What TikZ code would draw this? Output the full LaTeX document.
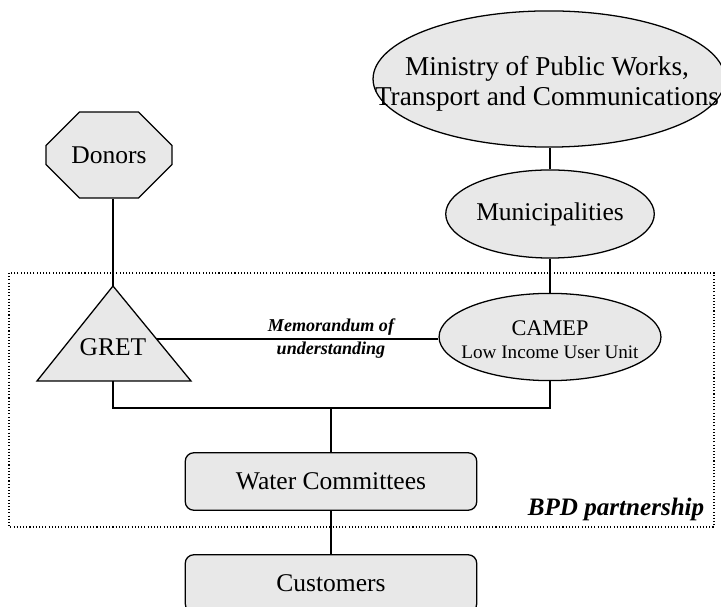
\documentclass[tikz,border=0pt]{standalone}
\usepackage{fontspec}
\setmainfont{Liberation Serif}
\usetikzlibrary{shapes.geometric,shapes.misc}
\definecolor{boxfill}{RGB}{232,232,232}
\begin{document}
\begin{tikzpicture}[x=0.47pt, y=-0.47pt, line width=0.6pt,
    unit/.style={draw, fill=boxfill, inner sep=0pt, align=center,
      font=\fontsize{12}{14.5}\selectfont},
    oval/.style={unit, ellipse},
    panel/.style={unit, rounded corners=4pt, minimum width=137pt, minimum height=27pt},
    caption/.style={align=center, inner sep=0pt},
    memo/.style={caption, font=\fontsize{8.5}{10.8}\bfseries\itshape}]
  \useasboundingbox (0, 0) rectangle (721, 607);
  % partnership frame
  \draw[densely dotted, line width=0.5pt] (9, 273) rectangle (714, 527);
  \node[anchor=base east, font=\fontsize{11.8}{14}\bfseries\itshape] (bpd) at (712, 515) {BPD partnership};
  % ovals on the right
  \node[oval, minimum width=165.4pt, minimum height=64pt] (ministry) at (549, 79) {};
  \node[caption, font=\fontsize{12.8}{14.2}\selectfont] (ministry text) at (547, 84)
    {Ministry of Public Works,\\Transport and Communications};
  \node[oval, minimum width=96pt, minimum height=41.4pt] (munic) at (550, 214) {Municipalities};
  \node[oval, minimum width=104.3pt, minimum height=41pt] (camep) at (550, 337) {};
  \node[caption, font=\fontsize{9}{10.8}\selectfont] (camep text) at (550, 340)
    {{\fontsize{10.5}{10.8}\selectfont CAMEP}\\Low Income User Unit};
  % donors and gret
  \node[unit, chamfered rectangle, chamfered rectangle xsep=11.75pt, chamfered rectangle ysep=11.75pt,
    minimum width=59.2pt, minimum height=40.4pt] (donors) at (109, 155) {Donors};
  \coordinate (gret top) at (113, 286);
  \coordinate (gret mid) at (113, 339);
  \coordinate (gret base) at (113, 381);
  \draw (gret mid) -- (gret mid -| camep.west);
  \node[memo] (memo) at (331, 339) {Memorandum of\\understanding};
  \filldraw[fill=boxfill] (gret top) -- (37, 381) -- (191, 381) -- cycle;
  \node[caption, font=\fontsize{12}{14.5}\selectfont] (gret) at (113, 347) {GRET};
  % boxes at the bottom
  \node[panel] (water) at (331, 481.5) {Water Committees};
  \node[panel] (customers) at (331, 583.5) {Customers};
  \coordinate (join) at (331, 408);
  % links
  \draw (munic.north) -- (munic.north |- ministry.south);
  \draw (munic.south) -- (camep.north);
  \draw (gret top) -- (gret top |- donors.south);
  \draw (gret base) |- (join) -| (camep.south);
  \draw (join) -- (water.north);
  \draw (water.south) -- (customers.north);
\end{tikzpicture}
\end{document}
